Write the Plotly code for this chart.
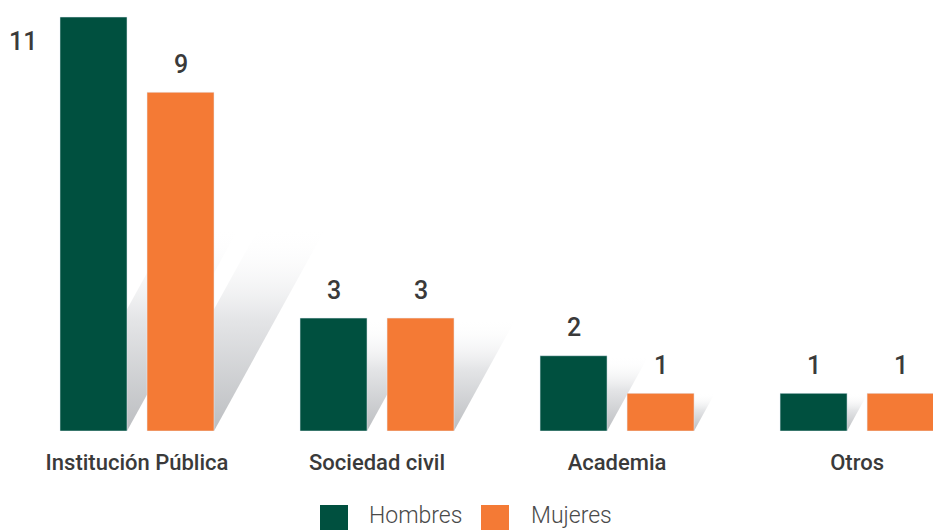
import plotly.graph_objects as go

categories = ['Institución Pública', 'Sociedad civil', 'Academia', 'Otros']
hombres = [11, 3, 2, 1]
mujeres = [9, 3, 1, 1]
series_names = ['Hombres', 'Mujeres']

GREEN = '#00503f'
ORANGE = '#f47a35'
TEXT = '#3a3a3a'
FONT = 'Roboto, Liberation Sans, sans-serif'

xpos = list(range(len(categories)))
offset = 0.18125      # bar centre offset from the category centre
half_w = 0.1396       # half bar width, x units
shear = 0.0863        # shadow lean: x units per y unit
shadow_cap = 5.4      # shadow fades out after this height

fig = go.Figure()

# soft slanted shadows behind every bar (on the base axes, bars sit on an overlay)
for vals, sign in [(hombres, -1), (mujeres, 1)]:
    for x, v in zip(xpos, vals):
        c = x + sign * offset
        xl, xr = c - half_w, c + half_w
        hs = min(v, shadow_cap)
        fig.add_trace(go.Scatter(
            x=[xl, xr, xr + shear * hs, xl + shear * hs, xl],
            y=[0, 0, hs, hs, 0],
            mode='lines', line=dict(width=0), fill='toself',
            fillgradient=dict(type='vertical', start=0, stop=hs,
                              colorscale=[[0, '#bcbec1'], [0.55, '#e4e5e7'],
                                          [1, 'rgba(255,255,255,0)']]),
            hoverinfo='skip', showlegend=False, xaxis='x', yaxis='y'))

fig.add_trace(go.Bar(x=xpos, y=hombres, name=series_names[0], marker_color=GREEN,
                     xaxis='x2', yaxis='y2', showlegend=False))
fig.add_trace(go.Bar(x=xpos, y=mujeres, name=series_names[1], marker_color=ORANGE,
                     xaxis='x2', yaxis='y2', showlegend=False))

# value labels
top = max(hombres + mujeres)
for vals, sign in [(hombres, -1), (mujeres, 1)]:
    for x, v in zip(xpos, vals):
        if v == top:
            xs, ys = -71, -24   # no room above the tallest bar -> put it to the left
        else:
            xs, ys = 0, 28
        fig.add_annotation(x=x + sign * offset, y=v, xref='x2', yref='y2',
                           text=str(v), showarrow=False, xshift=xs, yshift=ys,
                           font=dict(family=FONT, size=25, weight=500, color=TEXT))

# legend drawn by hand (big square swatches); page has an 8px body margin
W, PH = 941, 423
legend_items = [(series_names[0], GREEN, 312, 359), (series_names[1], ORANGE, 473, 521)]
for name, col, sx, tx in legend_items:
    fig.add_shape(type='rect', xref='paper', yref='paper',
                  x0=sx / W, x1=(sx + 28) / W, y0=(PH - 497) / PH, y1=(PH - 527) / PH,
                  fillcolor=col, line_width=0)
    fig.add_annotation(xref='paper', yref='paper', x=tx / W, y=(PH - 507) / PH,
                       xanchor='left', yanchor='middle', text=name, showarrow=False,
                       font=dict(family=FONT, size=23, weight=300, color='#4a4a4a'))

xrange = [-0.5375, 3.383]
yrange = [0, 11.24]
fig.update_layout(
    width=941, height=530,
    margin=dict(l=0, r=0, t=0, b=107),
    paper_bgcolor='white', plot_bgcolor='white',
    barmode='group', bargap=0.275, bargroupgap=0.23,
    showlegend=False,
    xaxis=dict(range=xrange, tickvals=xpos, ticktext=categories, showgrid=False,
               zeroline=False, showline=False, ticklabelstandoff=16,
               tickfont=dict(family=FONT, size=22, weight=500, color=TEXT)),
    yaxis=dict(range=yrange, visible=False),
    xaxis2=dict(range=xrange, overlaying='x', visible=False),
    yaxis2=dict(range=yrange, overlaying='y', visible=False),
)

fig.write_html('out.html')
